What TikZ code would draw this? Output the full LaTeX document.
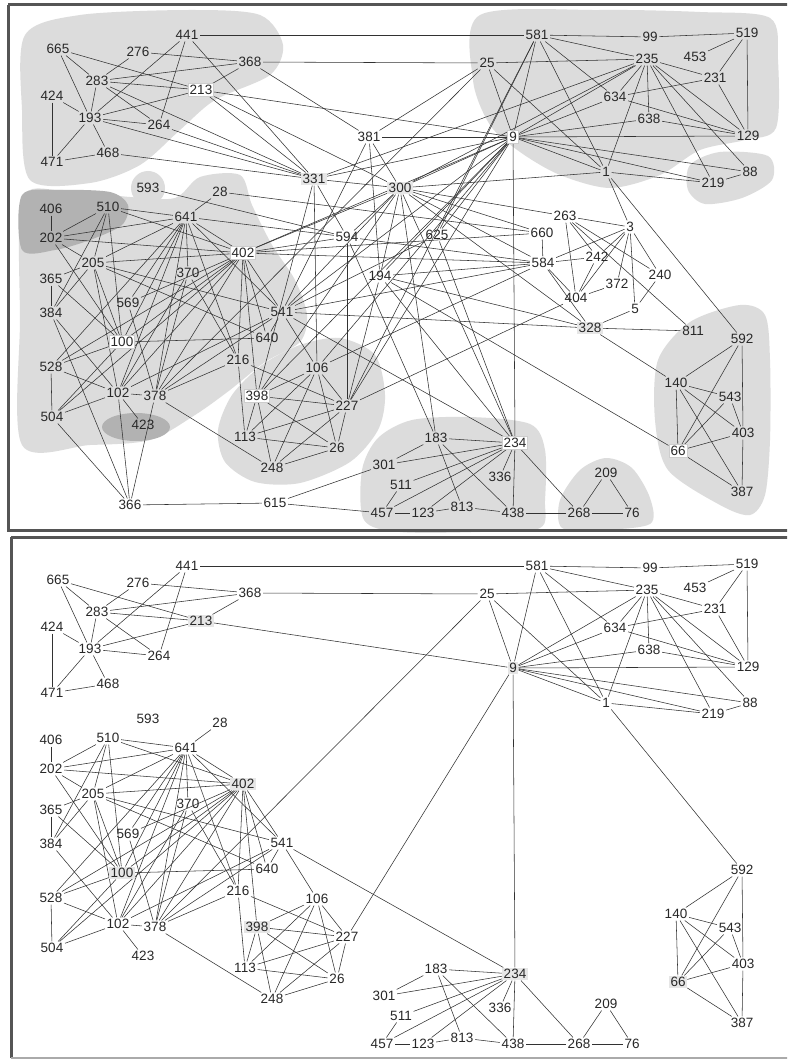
\documentclass[tikz,border=0pt]{standalone}
\usepackage{fontspec}
\setmainfont{Liberation Sans}
\usetikzlibrary{calc}
\definecolor{linkcolor}{RGB}{50,50,50}
\definecolor{labelcolor}{RGB}{40,40,40}
\definecolor{blobcolor}{RGB}{220,220,220}
\definecolor{darkblobcolor}{RGB}{178,178,178}
\definecolor{framecolor}{RGB}{85,85,85}
\definecolor{hubedge}{RGB}{205,205,205}
\definecolor{hubfill}{RGB}{230,230,230}
\pgfdeclarelayer{blobs}
\pgfdeclarelayer{edges}
\pgfsetlayers{blobs,edges,main}
\tikzset{
num/.style={
  font=\fontsize{13.5}{15}\selectfont,
  text=labelcolor,
  inner sep=1.6pt
},
hubtop/.style={
  num,
  draw=hubedge,
  fill=white,
  line width=0.8pt
},
hubshade/.style={
  num,
  fill=hubfill
},
link/.style={
  draw=linkcolor,
  line width=0.55pt
},
blob/.style={
  fill=blobcolor
},
darkblob/.style={
  fill=darkblobcolor
},
frame/.style={
  draw=framecolor,
  line width=3pt
}
}
% node positions (upper panel, pixels); the lower panel repeats them 531 lower
\newcommand\plainlist{441/187/35, 665/58/49, 276/138/52, 368/250/62, 283/97/81,
  424/52/96, 193/90/118, 264/159/125, 471/52/162, 468/108/153, 593/148/188,
  28/220/192, 406/51/209, 510/108/207, 641/186/217, 202/51/238, 205/93/263,
  370/188/273, 365/51/279, 384/51/313, 569/128/303, 541/282/312, 640/267/338,
  216/238/360, 528/51/367, 106/317/368, 102/118/393, 378/155/396, 227/347/406,
  504/52/417, 423/143/425, 113/245/437, 26/337/448, 248/272/468, 581/537/35,
  99/650/37, 519/747/33, 25/487/63, 235/647/59, 453/695/57, 231/715/78,
  634/615/97, 638/649/119, 129/748/136, 1/606/172, 88/750/172, 219/713/183,
  592/742/339, 140/676/383, 543/730/397, 403/743/433, 387/742/492, 183/436/438,
  301/384/465, 336/500/477, 511/401/485, 457/382/513, 123/423/513, 813/462/507,
  438/513/513, 268/579/513, 76/632/513, 209/606/473}
\newcommand\hublist{213/201/90, 9/513/137, 402/243/253, 100/122/342,
  398/257/396, 66/678/451, 234/515/443}
\newcommand\extralist{381/369/137, 594/347/237, 194/380/276, 625/437/235,
  660/542/233, 584/543/263, 263/565/216, 3/630/227, 242/597/257, 240/660/275,
  372/617/284, 404/576/298, 5/635/309, 811/693/331, 366/130/505, 615/275/503}
\newcommand\shadelist{331/314/179, 300/400/188, 328/590/328}
% links drawn in both panels
\newcommand\commonlinks{665/283, 665/193, 665/213, 276/368, 276/283, 441/193,
  441/264, 441/581, 368/283, 368/213, 368/25, 283/213, 283/264, 283/193,
  424/193, 424/471, 193/213, 193/264, 193/471, 193/468, 471/468, 213/9,
  581/99, 99/519, 581/235, 581/634, 581/1, 581/9, 25/235, 25/9, 25/1, 25/378,
  519/453, 519/231, 519/129, 235/231, 235/634, 235/638, 235/9, 235/1, 235/219,
  235/88, 235/129, 231/634, 231/129, 634/9, 634/129, 638/9, 638/129, 9/129,
  9/1, 9/219, 9/88, 1/219, 219/88, 1/592, 9/234, 9/227,
  592/140, 592/66, 592/403, 140/543, 140/403, 140/66, 140/387, 543/66,
  543/403, 66/403, 66/387, 403/387,
  183/234, 183/301, 183/813, 183/438, 301/234, 511/234, 511/457, 457/234,
  457/123, 123/234, 123/813, 813/438, 336/234, 234/438, 234/268, 438/268,
  268/209, 209/76, 268/76, 541/234,
  406/202, 510/202, 510/641, 510/402, 510/205, 510/100, 510/384, 202/641,
  202/402, 202/205, 202/100, 28/641, 205/641, 205/402, 205/541, 205/640,
  205/100, 205/102, 365/205, 365/384, 365/100, 384/102, 384/205, 528/504,
  528/102, 528/100, 528/402, 504/102, 504/100, 504/402, 569/378, 569/641,
  100/640, 100/641, 100/402, 102/378, 102/423, 102/641, 102/402, 102/541,
  102/370, 378/641, 378/402, 378/541, 378/216, 378/370, 378/248, 370/641,
  370/216, 216/641, 216/113, 216/227, 640/541, 640/402, 641/402, 641/541,
  541/402, 541/106, 402/398, 402/216, 641/528, 402/569,
  398/106, 398/227, 398/26, 398/113, 398/248, 106/113, 106/248, 106/26,
  106/227, 227/113, 227/26, 227/248, 113/26, 26/248}
% links of the upper panel only
\newcommand\toplinks{441/331, 368/381, 283/331, 213/331, 213/300, 193/331,
  264/331, 468/331, 381/9, 381/25, 381/300, 381/194, 381/541, 331/300,
  331/594, 331/106, 331/9, 331/398, 331/235, 593/594, 28/660, 641/594,
  402/594, 402/9, 402/300, 402/584, 402/660, 594/300, 594/584, 594/227,
  594/183, 300/9, 300/1, 300/263, 300/660, 300/584, 300/328, 300/194,
  300/183, 300/234, 300/541, 300/398, 300/235, 194/9, 194/584, 194/328,
  194/66, 194/227, 194/234, 625/9, 625/581, 625/234, 625/541, 581/227,
  541/9, 541/584, 541/328, 106/584, 106/9, 398/9, 584/660, 584/242, 584/3,
  584/404, 584/328, 263/3, 263/404, 263/240, 263/811, 263/242, 3/242,
  3/404, 3/372, 3/5, 3/240, 3/1, 242/404, 240/5, 372/404, 404/227, 5/328,
  811/328, 328/140, 366/615, 615/301, 615/457, 366/504, 366/384, 366/102,
  366/378}

\begin{document}
\begin{tikzpicture}[x=1pt,y=-1pt]
\useasboundingbox (0,0) rectangle (787,1064);
\clip (0,0) rectangle (787,1064);

% nodes
\foreach \n/\x/\y in \plainlist {
  \node[num] (t\n) at (\x,\y) {\n};
  \node[num] (b\n) at (\x,{\y+531}) {\n};
}
\foreach \n/\x/\y in \hublist {
  \node[hubtop] (t\n) at (\x,\y) {\n};
  \node[hubshade] (b\n) at (\x,{\y+531}) {\n};
}
\foreach \n/\x/\y in \extralist
  \node[num] (t\n) at (\x,\y) {\n};
\foreach \n/\x/\y in \shadelist
  \node[hubshade] (t\n) at (\x,\y) {\n};

% links
\begin{pgfonlayer}{edges}
\foreach \a/\b in \commonlinks {
  \draw[link] (t\a) -- (t\b);
  \draw[link] (b\a) -- (b\b);
}
\foreach \a/\b in \toplinks
  \draw[link] (t\a) -- (t\b);
\end{pgfonlayer}

% shaded groups of the upper panel
\begin{pgfonlayer}{blobs}
\fill[white] (0,0) rectangle (787,1064);
\fill[blob] plot[smooth cycle] coordinates {(25,35) (80,15) (190,10) (260,15)
  (283,45) (270,75) (215,100) (180,130) (140,165) (90,183) (30,180) (22,110)};
\fill[blob] (148,188) circle (17);
\fill[blob] plot[smooth cycle] coordinates {(22,200) (60,190) (130,197)
  (175,198) (200,177) (240,175) (252,205) (272,245) (295,280) (307,315)
  (300,342) (265,362) (230,390) (195,415) (150,440) (90,445) (22,445)
  (20,320)};
\fill[blob] plot[smooth cycle] coordinates {(218,430) (232,395) (262,365)
  (300,345) (340,338) (375,355) (385,395) (378,430) (350,462) (300,483)
  (255,482) (225,462)};
\fill[blob] plot[smooth cycle] coordinates {(362,470) (378,438) (412,420)
  (470,417) (530,424) (545,450) (545,500) (540,528) (480,532) (400,532)
  (364,520)};
\fill[blob] plot[smooth cycle] coordinates {(560,500) (580,470) (606,458)
  (632,468) (650,498) (650,524) (600,530) (562,528)};
\fill[blob] plot[smooth cycle] coordinates {(658,360) (690,322) (740,305)
  (765,315) (770,360) (770,440) (765,495) (750,515) (720,505) (668,470)
  (655,420)};
\fill[blob] plot[smooth cycle] coordinates {(480,15) (600,10) (700,12)
  (770,18) (778,60) (776,128) (745,140) (700,150) (660,175) (610,188)
  (560,175) (520,152) (490,125) (473,80)};
\fill[blob] plot[smooth cycle] coordinates {(690,165) (720,152) (768,156)
  (772,180) (742,198) (705,204) (688,190)};
\fill[darkblob] plot[smooth cycle] coordinates {(22,195) (60,190) (110,192)
  (128,205) (122,225) (90,240) (55,250) (22,250)};
\fill[darkblob] (136,427) ellipse (34 and 14);
\end{pgfonlayer}

% panel frames
\draw[frame] (8,5) -- (800,5);
\draw[frame] (8,5) -- (8,530) -- (800,530);
\draw[frame] (11,537) -- (800,537);
\draw[frame] (11,537) -- (11,1058);
\draw[framecolor!50, line width=1.2pt] (11,1058) -- (800,1058);
\end{tikzpicture}
\end{document}
